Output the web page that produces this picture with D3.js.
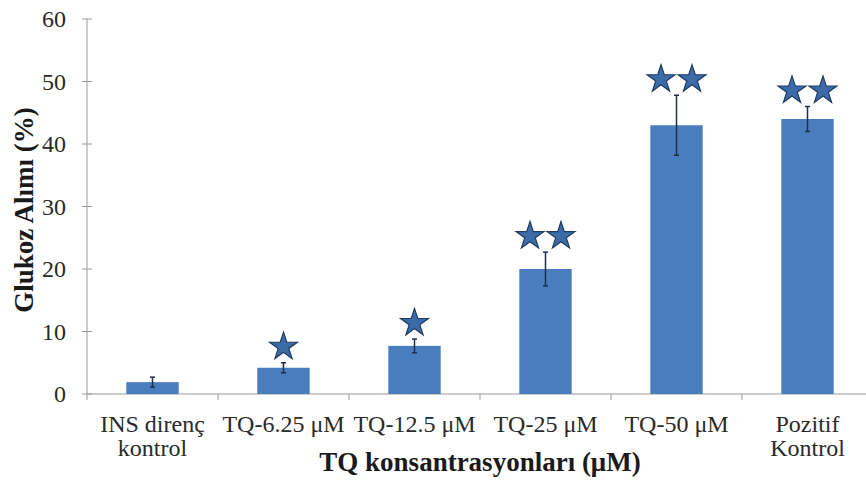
<!DOCTYPE html>
<html>
<head>
<meta charset="utf-8">
<script src="https://cdn.jsdelivr.net/npm/d3@7"></script>
<style>
  html, body { margin: 0; padding: 0; background: #fff; }
  svg { display: block; }
  text { font-family: "Liberation Serif", "Times New Roman", serif; }
</style>
</head>
<body>
<svg id="chart" width="866" height="490"></svg>
<script>
// Glucose uptake by TQ concentration
const categories = ["INS direnç\nkontrol", "TQ-6.25 μM", "TQ-12.5 μM", "TQ-25 μM", "TQ-50 μM", "Pozitif\nKontrol"];
const values     = [1.9, 4.2, 7.7, 20.0, 43.0, 44.0];
const errors     = [0.8, 0.8, 1.1, 2.7, 4.8, 2.0];
const starCounts = [0, 1, 1, 2, 2, 2];
const yTicks     = [0, 10, 20, 30, 40, 50, 60];
const yTitle = "Glukoz Alımı (%)";
const xTitle = "TQ konsantrasyonları (μM)";

const svg = d3.select("#chart");
const plotLeft = 87, plotBottom = 394, plotTop = 19;
const step = 131;

const x = d3.scaleBand()
  .domain(categories)
  .range([plotLeft, plotLeft + step * categories.length])
  .paddingInner(0.6)
  .paddingOuter(0.3);

const y = d3.scaleLinear().domain([0, 60]).range([plotBottom, plotTop]);

const axisColor = "#9a9a9a";

// y axis line with cross ticks
svg.append("line")
  .attr("x1", plotLeft).attr("x2", plotLeft)
  .attr("y1", y(60)).attr("y2", y(0))
  .attr("stroke", axisColor).attr("stroke-width", 1);

svg.selectAll(".ytick").data(yTicks).join("line")
  .attr("class", "ytick")
  .attr("x1", plotLeft - 5).attr("x2", plotLeft + 5)
  .attr("y1", d => y(d)).attr("y2", d => y(d))
  .attr("stroke", axisColor);

svg.selectAll(".ylabel").data(yTicks).join("text")
  .attr("class", "ylabel")
  .attr("x", 66).attr("y", d => y(d))
  .attr("dy", "0.35em")
  .attr("text-anchor", "end")
  .attr("font-size", 24)
  .attr("fill", "#2a2a2a")
  .text(d => d);

// x axis line and boundary ticks
const xEnd = plotLeft + step * categories.length;
svg.append("line")
  .attr("x1", plotLeft).attr("x2", xEnd)
  .attr("y1", plotBottom).attr("y2", plotBottom)
  .attr("stroke", axisColor);

const boundaries = d3.range(categories.length + 1).map(i => plotLeft + x.step() * i);
svg.selectAll(".xtick").data(boundaries).join("line")
  .attr("class", "xtick")
  .attr("x1", d => d).attr("x2", d => d)
  .attr("y1", plotBottom).attr("y2", plotBottom + 6)
  .attr("stroke", axisColor);

// bars
svg.selectAll(".bar").data(categories).join("rect")
  .attr("class", "bar")
  .attr("x", d => x(d))
  .attr("width", x.bandwidth())
  .attr("y", (d, i) => y(values[i]))
  .attr("height", (d, i) => y(0) - y(values[i]))
  .attr("fill", "#4a7dbd");

// error bars
const eb = svg.append("g").attr("stroke", "#1c2f4d").attr("stroke-width", 1.5);
categories.forEach((c, i) => {
  const cx = x(c) + x.bandwidth() / 2;
  const y1 = y(values[i] + errors[i]), y2 = y(values[i] - errors[i]);
  eb.append("line").attr("x1", cx).attr("x2", cx).attr("y1", y1).attr("y2", y2);
  eb.append("line").attr("x1", cx - 2.5).attr("x2", cx + 2.5).attr("y1", y1).attr("y2", y1);
  eb.append("line").attr("x1", cx - 2.5).attr("x2", cx + 2.5).attr("y1", y2).attr("y2", y2);
});

// significance stars above the error bars
const star = d3.symbol().type(d3.symbolStar).size(240);
categories.forEach((c, i) => {
  const n = starCounts[i];
  if (!n) return;
  const cx = x(c) + x.bandwidth() / 2;
  const cy = y(values[i] + errors[i]) - 18;
  for (let k = 0; k < n; k++) {
    const off = (k - (n - 1) / 2) * 31;
    svg.append("path")
      .attr("d", star())
      .attr("transform", `translate(${cx + off},${cy + 2})`)
      .attr("fill", "#3c6ca8")
      .attr("stroke", "#1f3a63")
      .attr("stroke-width", 1.2);
  }
});

// category labels (may span two lines)
svg.selectAll(".xlabel").data(categories).join("text")
  .attr("class", "xlabel")
  .attr("x", d => x(d) + x.bandwidth() / 2)
  .attr("y", 432)
  .attr("text-anchor", "middle")
  .attr("font-size", 24)
  .attr("fill", "#2a2a2a")
  .each(function (d) {
    const lines = d.split("\n");
    d3.select(this).selectAll("tspan").data(lines).join("tspan")
      .attr("x", x(d) + x.bandwidth() / 2)
      .attr("dy", (l, j) => j === 0 ? 0 : 24)
      .text(l => l);
  });

// axis titles
svg.append("text")
  .attr("x", 480).attr("y", 471)
  .attr("text-anchor", "middle")
  .attr("font-size", 27).attr("font-weight", "bold")
  .attr("fill", "#1a1a1a")
  .text(xTitle);

svg.append("text")
  .attr("transform", "translate(33,210) rotate(-90)")
  .attr("text-anchor", "middle")
  .attr("font-size", 27).attr("font-weight", "bold")
  .attr("fill", "#1a1a1a")
  .text(yTitle);
</script>
</body>
</html>
